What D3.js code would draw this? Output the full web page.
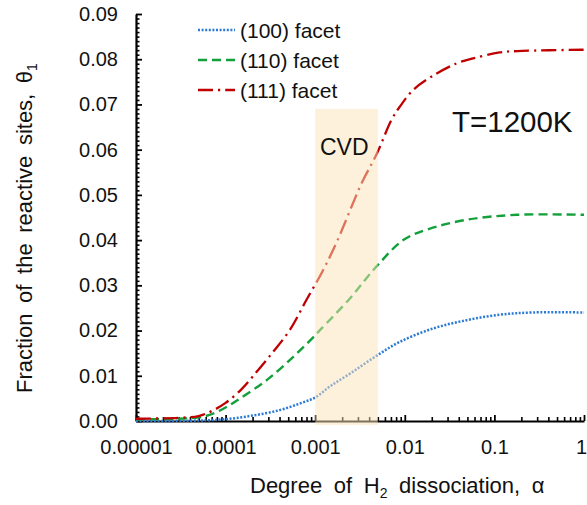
<!DOCTYPE html>
<html>
<head>
<meta charset="utf-8">
<script src="https://cdn.jsdelivr.net/npm/d3@7"></script>
<style>
  html, body { margin: 0; padding: 0; background: #fff; }
  svg { display: block; font-family: "Liberation Sans", Arial, sans-serif; }
</style>
</head>
<body>
<svg id="chart" width="587" height="505"></svg>
<script>
// ---- data ----
const seriesNames = ["(100) facet", "(110) facet", "(111) facet"];
const alpha100 = [1e-5, 5e-5, 1e-4, 2e-4, 4e-4, 6.8e-4, 1e-3, 1.5e-3, 2.5e-3, 4.65e-3, 8.8e-3, 0.021, 0.049, 0.114, 0.27, 1];
const theta100 = [0.0000, 0.0001, 0.0004, 0.0012, 0.0024, 0.0039, 0.0052, 0.0078, 0.0106, 0.0142, 0.0175, 0.0205, 0.0223, 0.0235, 0.0240, 0.0240];
const alpha110 = [1e-5, 3e-5, 5e-5, 7e-5, 1e-4, 1.45e-4, 2.9e-4, 5.7e-4, 9.5e-4, 1.13e-3, 2.44e-3, 4.65e-3, 9.6e-3, 0.0175, 0.049, 0.18, 1];
const theta110 = [0.0004, 0.0005, 0.0008, 0.0015, 0.0030, 0.0050, 0.0091, 0.0142, 0.0185, 0.0201, 0.0271, 0.0338, 0.0400, 0.0423, 0.0445, 0.0456, 0.0456];
const alpha111 = [1e-5, 3e-5, 5e-5, 7e-5, 1e-4, 1.5e-4, 2e-4, 3.3e-4, 5.2e-4, 8e-4, 1.2e-3, 1.75e-3, 3.3e-3, 4.9e-3, 7.1e-3, 8.8e-3, 0.0124, 0.02, 0.038, 0.058, 0.114, 0.18, 1];
const theta111 = [0.0005, 0.0007, 0.0011, 0.0022, 0.0040, 0.0070, 0.0098, 0.0150, 0.0201, 0.0268, 0.0330, 0.0397, 0.0526, 0.0592, 0.0666, 0.0695, 0.0732, 0.0762, 0.0791, 0.0802, 0.0815, 0.0818, 0.0821];
const xTickValues = [1e-5, 1e-4, 1e-3, 1e-2, 1e-1, 1];
const xTickLabels = ["0.00001", "0.0001", "0.001", "0.01", "0.1", "1"];
const yTickValues = [0, 0.01, 0.02, 0.03, 0.04, 0.05, 0.06, 0.07, 0.08, 0.09];
const yTickLabels = ["0.00", "0.01", "0.02", "0.03", "0.04", "0.05", "0.06", "0.07", "0.08", "0.09"];
const cvdRange = [0.001, 0.005];
const cvdTop = 0.069;

// ---- setup ----
const svg = d3.select("#chart");
const X0 = 136, X1 = 584, Y0 = 421, Y1 = 14;
const x = d3.scaleLog().domain([1e-5, 1]).range([X0, X1]);
const y = d3.scaleLinear().domain([0, 0.09]).range([Y0, Y1]);
const textColor = "#111";

// minor ticks
const xMinor = [];
for (let e = -5; e < 0; e++) for (let k = 2; k <= 9; k++) xMinor.push(k * Math.pow(10, e));
const yMinor = d3.range(0, 91).map(i => i / 1000).filter(v => Math.round(v * 1000) % 10 !== 0);

// y minor tick marks (inside, to the right)
svg.append("g").attr("transform", `translate(${X0},0)`)
  .call(d3.axisRight(y).tickValues(yMinor).tickSize(3.5).tickFormat(""))
  .call(g => g.select(".domain").remove())
  .call(g => g.selectAll("line").attr("stroke", "#000").attr("stroke-width", 1.6));
// y major tick marks
svg.append("g").attr("transform", `translate(${X0},0)`)
  .call(d3.axisRight(y).tickValues(yTickValues).tickSize(6).tickFormat(""))
  .call(g => g.select(".domain").remove())
  .call(g => g.selectAll("line").attr("stroke", "#000").attr("stroke-width", 1.8));
// y labels + domain
svg.append("g").attr("transform", `translate(${X0},0)`)
  .call(d3.axisLeft(y).tickValues(yTickValues).tickSize(0).tickPadding(18)
        .tickFormat((d, i) => yTickLabels[i]))
  .call(g => g.select(".domain").attr("stroke", "#000").attr("stroke-width", 2.2))
  .call(g => g.selectAll("text").attr("font-size", 20).attr("fill", textColor)
        .attr("font-family", "Liberation Sans, Arial, sans-serif"));

// x minor tick marks (upward)
svg.append("g").attr("transform", `translate(0,${Y0})`)
  .call(d3.axisTop(x).tickValues(xMinor).tickSize(4).tickFormat(""))
  .call(g => g.select(".domain").remove())
  .call(g => g.selectAll("line").attr("stroke", "#000").attr("stroke-width", 1.6));
svg.append("g").attr("transform", `translate(0,${Y0})`)
  .call(d3.axisTop(x).tickValues(xTickValues).tickSize(6).tickFormat(""))
  .call(g => g.select(".domain").remove())
  .call(g => g.selectAll("line").attr("stroke", "#000").attr("stroke-width", 1.8));
svg.append("g").attr("transform", `translate(0,${Y0})`)
  .call(d3.axisBottom(x).tickValues(xTickValues).tickSize(0).tickPadding(19)
        .tickFormat((d, i) => xTickLabels[i]))
  .call(g => g.select(".domain").attr("stroke", "#000").attr("stroke-width", 2.2))
  .call(g => g.selectAll("text").attr("font-size", 20).attr("fill", textColor)
        .attr("font-family", "Liberation Sans, Arial, sans-serif"))
  .call(g => g.selectAll(".tick").filter(d => d === 1).select("text").attr("dx", -3));

// ---- lines ----
const styles = [
  { color: "#2A7AD6", dash: "2,1.6", width: 2.5 },
  { color: "#12A03A", dash: "9,5", width: 2.4 },
  { color: "#C00000", dash: "15,5,2.2,5", width: 2.3 }
];
const seriesData = [
  alpha100.map((a, i) => [a, theta100[i]]),
  alpha110.map((a, i) => [a, theta110[i]]),
  alpha111.map((a, i) => [a, theta111[i]])
];
const line = d3.line().x(d => x(d[0])).y(d => y(d[1])).curve(d3.curveCatmullRom.alpha(0.5));
seriesData.forEach((data, i) => {
  svg.append("path").datum(data).attr("d", line)
    .attr("fill", "none").attr("stroke", styles[i].color)
    .attr("stroke-width", styles[i].width).attr("stroke-dasharray", styles[i].dash);
});

// ---- CVD band (overlay) ----
svg.append("rect")
  .attr("x", x(cvdRange[0])).attr("width", x(cvdRange[1]) - x(cvdRange[0]))
  .attr("y", y(cvdTop)).attr("height", Y0 + 4 - y(cvdTop))
  .attr("fill", "#FBE4B8").attr("opacity", 0.5);
svg.append("text").attr("x", 320).attr("y", 155).attr("font-size", 23)
  .attr("fill", textColor).text("CVD");

// ---- annotation ----
svg.append("text").attr("x", 452).attr("y", 132).attr("font-size", 29.5)
  .attr("fill", textColor).text("T=1200K");

// ---- legend ----
const legendY = [30, 60, 90];
seriesNames.forEach((name, i) => {
  svg.append("line").attr("x1", 198).attr("x2", 235).attr("y1", legendY[i]).attr("y2", legendY[i])
    .attr("stroke", styles[i].color).attr("stroke-width", styles[i].width)
    .attr("stroke-dasharray", styles[i].dash);
  svg.append("text").attr("x", 240).attr("y", legendY[i] + 8).attr("font-size", 21)
    .attr("fill", textColor).text(name);
});

// ---- axis titles ----
const xt = svg.append("text").attr("x", 250).attr("y", 493).attr("text-anchor", "start")
  .attr("font-size", 22).attr("fill", textColor).attr("word-spacing", 5.5);
xt.append("tspan").text("Degree of H");
xt.append("tspan").attr("font-size", 14).attr("dy", 5).text("2");
xt.append("tspan").attr("dy", -5).text(" dissociation, α");

const yt = svg.append("text").attr("transform", "translate(32,393) rotate(-90)")
  .attr("text-anchor", "start").attr("font-size", 22).attr("fill", textColor)
  .attr("word-spacing", 4.5);
yt.append("tspan").text("Fraction of the reactive sites, θ");
yt.append("tspan").attr("font-size", 14).attr("dy", 5).text("1");
</script>
</body>
</html>
